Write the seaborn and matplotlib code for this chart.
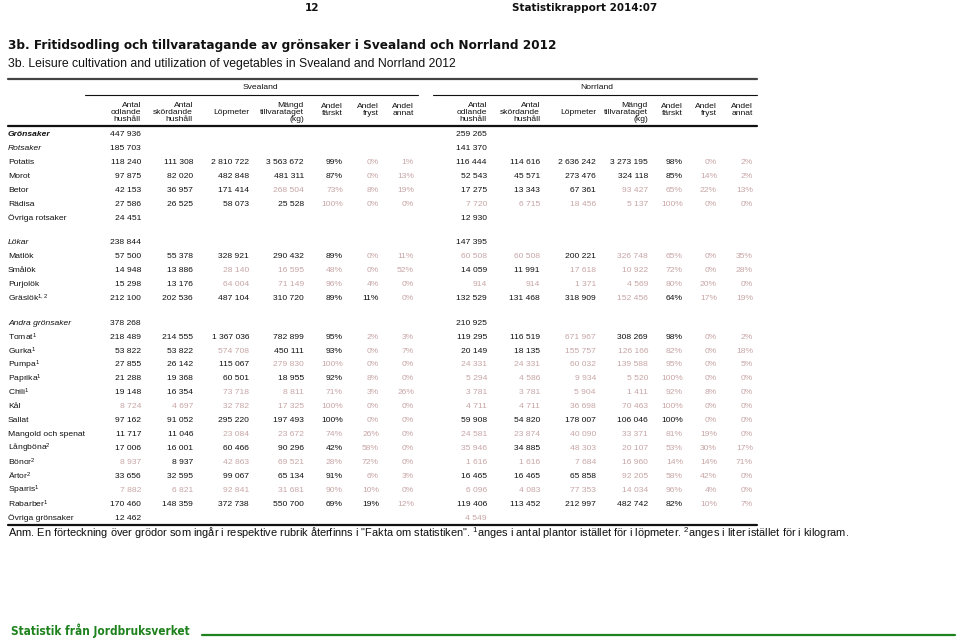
import matplotlib
matplotlib.use('Agg')
import matplotlib.pyplot as plt
import seaborn as sns
from matplotlib import font_manager as fm

# ---- table data -------------------------------------------------------
crops = ["Grönsaker", "Rotsaker", "Potatis", "Morot", "Betor", "Rädisa",
         "Övriga rotsaker", "Lökar", "Matlök", "Smålök", "Purjolök", "Gräslök",
         "Andra grönsaker", "Tomat", "Gurka", "Pumpa", "Paprika", "Chili", "Kål",
         "Sallat", "Mangold och spenat", "Långböna", "Bönor", "Ärtor", "Sparris",
         "Rabarber", "Övriga grönsaker"]
crop_group = [0, 0, 0, 0, 0, 0, 0, 1, 1, 1, 1, 1, 2, 2, 2, 2, 2, 2, 2, 2, 2,
              2, 2, 2, 2, 2, 2]
crop_note = ["", "", "", "", "", "", "", "", "", "", "", "1,2", "", "1", "1",
             "1", "1", "1", "", "", "", "2", "2", "2", "1", "1", ""]

sv_odlande = [447936, 185703, 118240, 97875, 42153, 27586, 24451, 238844, 57500,
              14948, 15298, 212100, 378268, 218489, 53822, 27855, 21288, 19148,
              8724, 97162, 11717, 17006, 8937, 33656, 7882, 170460, 12462]
sv_skordande = [None, None, 111308, 82020, 36957, 26525, None, None, 55378, 13886,
                13176, 202536, None, 214555, 53822, 26142, 19368, 16354, 4697,
                91052, 11046, 16001, 8937, 32595, 6821, 148359, None]
sv_lopmeter = [None, None, 2810722, 482848, 171414, 58073, None, None, 328921,
               28140, 64004, 487104, None, 1367036, 574708, 115067, 60501, 73718,
               32782, 295220, 23084, 60466, 42863, 99067, 92841, 372738, None]
sv_mangd = [None, None, 3563672, 481311, 268504, 25528, None, None, 290432, 16595,
            71149, 310720, None, 782899, 450111, 279830, 18955, 8811, 17325,
            197493, 23672, 90296, 69521, 65134, 31681, 550700, None]
sv_farskt = [None, None, 99, 87, 73, 100, None, None, 89, 48, 96, 89, None, 95,
             93, 100, 92, 71, 100, 100, 74, 42, 28, 91, 90, 69, None]
sv_fryst = [None, None, 0, 0, 8, 0, None, None, 0, 0, 4, 11, None, 2, 0, 0, 8, 3,
            0, 0, 26, 58, 72, 6, 10, 19, None]
sv_annat = [None, None, 1, 13, 19, 0, None, None, 11, 52, 0, 0, None, 3, 7, 0, 0,
            26, 0, 0, 0, 0, 0, 3, 0, 12, None]

no_odlande = [259265, 141370, 116444, 52543, 17275, 7720, 12930, 147395, 60508,
              14059, 914, 132529, 210925, 119295, 20149, 24331, 5294, 3781, 4711,
              59908, 24581, 35946, 1616, 16465, 6096, 119406, 4549]
no_skordande = [None, None, 114616, 45571, 13343, 6715, None, None, 60508, 11991,
                914, 131468, None, 116519, 18135, 24331, 4586, 3781, 4711, 54820,
                23874, 34885, 1616, 16465, 4083, 113452, None]
no_lopmeter = [None, None, 2636242, 273476, 67361, 18456, None, None, 200221,
               17618, 1371, 318909, None, 671967, 155757, 60032, 9934, 5904,
               36698, 178007, 40090, 48303, 7684, 65858, 77353, 212997, None]
no_mangd = [None, None, 3273195, 324118, 93427, 5137, None, None, 326748, 10922,
            4569, 152456, None, 308269, 126166, 139588, 5520, 1411, 70463, 106046,
            33371, 20107, 16960, 92205, 14034, 482742, None]
no_farskt = [None, None, 98, 85, 65, 100, None, None, 65, 72, 80, 64, None, 98,
             82, 95, 100, 92, 100, 100, 81, 53, 14, 58, 96, 82, None]
no_fryst = [None, None, 0, 14, 22, 0, None, None, 0, 0, 20, 17, None, 0, 0, 0, 0,
            8, 0, 0, 19, 30, 14, 42, 4, 10, None]
no_annat = [None, None, 2, 2, 13, 0, None, None, 35, 28, 0, 19, None, 2, 18, 5, 0,
            0, 0, 0, 0, 17, 71, 0, 0, 7, None]

# uncertain estimates (shown in grey), one char per column: g = uncertain
sv_uncertain = [".......", ".......", ".....gg", ".....gg", "...gggg", "....ggg",
                ".......", ".......", ".....gg", "..ggggg", "..ggggg", "......g",
                ".......", ".....gg", "..g..gg", "...gggg", ".....gg", "..ggggg",
                "ggggggg", ".....gg", "..ggggg", ".....gg", "g.ggggg", ".....gg",
                "ggggggg", "......g", "......."]
no_uncertain = [".......", ".......", ".....gg", ".....gg", "...gggg", "ggggggg",
                ".......", ".......", "gg.gggg", "..ggggg", "ggggggg", "...g.gg",
                ".......", "..g..gg", "..ggggg", "ggggggg", "ggggggg", "ggggggg",
                "ggggggg", ".....gg", "ggggggg", "g.ggggg", "ggggggg", "...gggg",
                "ggggggg", ".....gg", "g......"]

col_headers = ["Antal\nodlande\nhushåll", "Antal\nskördande\nhushåll", "Löpmeter",
               "Mängd\ntillvarataget\n(kg)", "Andel\nfärskt", "Andel\nfryst",
               "Andel\nannat"]
regions = ["Svealand", "Norrland"]

# ---- styling ----------------------------------------------------------
sns.set_theme(style='white')
plt.rcParams['font.family'] = ['Liberation Sans', 'DejaVu Sans']
plt.rcParams['mathtext.fontset'] = 'custom'
plt.rcParams['mathtext.rm'] = 'Liberation Sans'
plt.rcParams['mathtext.it'] = 'Liberation Sans:italic'
plt.rcParams['mathtext.bf'] = 'Liberation Sans:bold'

BLACK = '#111111'
GREY = '#c8a5a5'
GREEN = '#1e821e'
FS = 6.1


def _weight(f):
    w = f.weight
    if isinstance(w, str):
        w = fm.weight_dict.get(w, 400)
    return w


# look for a condensed bold face for the page header / footer
cond_file = None
for f in fm.fontManager.ttflist:
    narrow = ('Condensed' in f.name or 'Narrow' in f.name or
              f.stretch in ('condensed', 'semi-condensed', 'extra-condensed',
                            'ultra-condensed'))
    if narrow and _weight(f) >= 700 and f.style == 'normal':
        cond_file = f.fname
        break
if cond_file:
    cond_kw = dict(fontproperties=fm.FontProperties(fname=cond_file, size=11))
else:
    cond_kw = dict(family='Liberation Sans', weight='bold', fontsize=11)

fig = plt.figure(figsize=(9.6, 6.43), dpi=100)
ax = fig.add_axes([0, 0, 1, 1])
ax.set_xlim(0, 960)
ax.set_ylim(643, 0)
ax.axis('off')
renderer = fig.canvas.get_renderer()


def fit(t, width):
    # scale a text so that it spans the width it has in the report
    bb = t.get_window_extent(renderer)
    t.set_fontsize(t.get_fontsize() * width / bb.width)
    return t


# page header
t12 = ax.text(312, 8, "12", ha='center', va='center', color=BLACK, **cond_kw)
trep = ax.text(512, 8, "Statistikrapport 2014:07", ha='left', va='center',
               color=BLACK, **cond_kw)
fit(trep, 144)
t12.set_fontsize(trep.get_fontsize())

fit(ax.text(8, 46, "3b. Fritidsodling och tillvaratagande av grönsaker i Svealand och Norrland 2012",
            family='DejaVu Sans', weight='bold', fontsize=8.2, va='center', color=BLACK), 552)
fit(ax.text(8, 64, "3b. Leisure cultivation and utilization of vegetables in Svealand and Norrland 2012",
            fontsize=8.1, va='center', color=BLACK), 447)

# rules
ax.plot([8, 757], [79, 79], color='#444444', lw=1.6)
ax.plot([85, 418], [95, 95], color=BLACK, lw=0.8)
ax.plot([433, 757], [95, 95], color=BLACK, lw=0.8)
ax.plot([8, 757], [126, 126], color=BLACK, lw=1.6)
ax.plot([8, 757], [525, 525], color=BLACK, lw=1.6)

sv_x = [141, 193, 249, 304, 343, 379, 414]
no_x = [487, 540, 596, 648, 683, 717, 753]

ax.text(260, 87.5, regions[0], ha='center', va='center', fontsize=FS, color=BLACK)
ax.text(597, 87.5, regions[1], ha='center', va='center', fontsize=FS, color=BLACK)
for xs in (sv_x, no_x):
    for x, h in zip(xs, col_headers):
        n = h.count('\n')
        yc = {0: 112, 1: 110, 2: 112.5}[n]
        ax.text(x, yc, h, ha='right', va='center', multialignment='right',
                fontsize=FS, linespacing=1.05, color=BLACK)

# row positions
row_y = []
y = 134.8
for i, g in enumerate(crop_group):
    if i > 0:
        y += 13.93
        if g != crop_group[i - 1]:
            y += 10.6
    row_y.append(y)

italic_rows = {"Rotsaker", "Lökar", "Andra grönsaker"}


def fmt(v, pct):
    if v is None:
        return ""
    if pct:
        return f"{v}%"
    return f"{v:,}".replace(",", " ")


sv_cols = [sv_odlande, sv_skordande, sv_lopmeter, sv_mangd, sv_farskt, sv_fryst, sv_annat]
no_cols = [no_odlande, no_skordande, no_lopmeter, no_mangd, no_farskt, no_fryst, no_annat]

for i, name in enumerate(crops):
    yy = row_y[i]
    label = name + (f"$^{{{crop_note[i]}}}$" if crop_note[i] else "")
    style = 'italic' if (name in italic_rows or name == "Grönsaker") else 'normal'
    weight = 'bold' if name == "Grönsaker" else 'normal'
    ax.text(8, yy, label, ha='left', va='center', fontsize=FS, style=style,
            weight=weight, color=BLACK)
    for cols, xs, unc in ((sv_cols, sv_x, sv_uncertain), (no_cols, no_x, no_uncertain)):
        for j, (col, x) in enumerate(zip(cols, xs)):
            txt = fmt(col[i], j >= 4)
            if txt:
                c = GREY if unc[i][j] == 'g' else BLACK
                ax.text(x, yy, txt, ha='right', va='center', fontsize=FS, color=c)

fit(ax.text(8, 533, 'Anm. En förteckning över grödor som ingår i respektive rubrik återfinns i '
            '"Fakta om statistiken". $^{1}$anges i antal plantor istället för i löpmeter. '
            '$^{2}$anges i liter istället för i kilogram.',
            ha='left', va='center', fontsize=7.2, color=BLACK), 843)

# page footer
fit(ax.text(11, 631, "Statistik från Jordbruksverket", ha='left', va='center',
            color=GREEN, **cond_kw), 179)
ax.plot([202, 955], [635, 635], color=GREEN, lw=1.6)

fig.savefig('out.png', dpi=100)
plt.close(fig)
